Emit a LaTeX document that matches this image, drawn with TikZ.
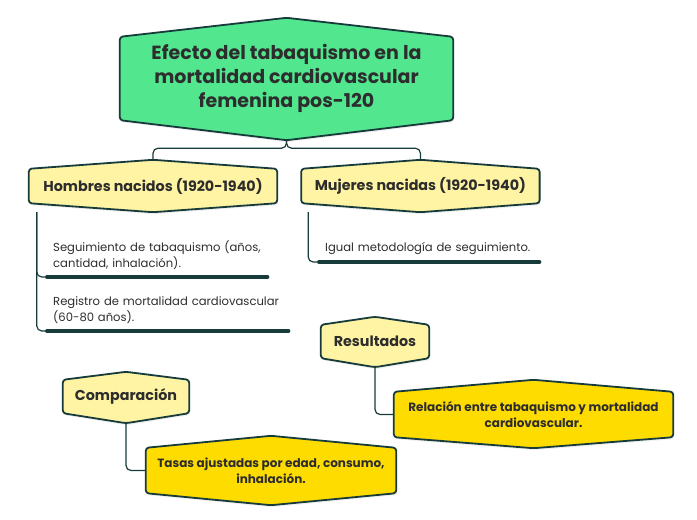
\documentclass[tikz,border=0pt]{standalone}
\usepackage{fontspec}
\setmainfont{Poppins}
\usetikzlibrary{positioning, shadows, backgrounds}

\definecolor{rootgreen}{HTML}{52E78F}
\definecolor{paleyellow}{HTML}{FFF4A3}
\definecolor{goldyellow}{HTML}{FFDC00}
\definecolor{edge}{HTML}{173B3B}
\definecolor{ink}{HTML}{2D2D2D}

\begin{document}
\begin{tikzpicture}[x=1pt, y=-1pt,
    % Define styles
    box/.style={rectangle, inner sep=0pt, align=center, text=ink},
    main/.style={box, font=\fontsize{19}{24}\selectfont\bfseries},
    group/.style={box, minimum height=34pt, font=\fontsize{14.3}{17}\selectfont\bfseries},
    result/.style={box, minimum height=45pt, font=\fontsize{12}{15.5}\selectfont\bfseries},
    item/.style={anchor=south west, align=left, inner xsep=8pt, inner ysep=7pt, font=\fontsize{11.6}{16.5}\selectfont, text=ink},
    hexline/.style={draw=edge, line width=1.8pt, rounded corners=3pt, drop shadow={opacity=0.12, shadow xshift=1pt, shadow yshift=-2pt}},
    link/.style={draw=edge, line width=1.2pt, rounded corners=5pt},
    underline/.style={draw=edge, line width=4pt, line cap=round, shorten <=2pt, shorten >=2pt}
  ]
  \useasboundingbox (0,0) rectangle (697,520);

  % Main topic
  \node[main, minimum width=333pt, minimum height=83pt] (root) at (286.5,78.5) {Efecto del tabaquismo en la\\mortalidad cardiovascular\\femenina pos-120};

  % Groups
  \node[group, minimum width=248pt] (hombres) at (153,186) {Hombres nacidos (1920-1940)};
  \node[group, minimum width=238pt, right=24pt of hombres] (mujeres) {Mujeres nacidas (1920-1940)};
  \draw[link] ([yshift=-20pt]root.south) -- ++(0,8) -| ([yshift=9pt]hombres.north);
  \draw[link] ([yshift=-20pt]root.south) -- ++(0,8) -| ([yshift=9pt]mujeres.north);

  % Details
  \node[item, text width=208pt] (seguimiento) at (45,277) {Seguimiento de tabaquismo (años,\\cantidad, inhalación).};
  \node[item, text width=229pt] (registro) at (45,331) {Registro de mortalidad cardiovascular\\(60-80 años).};
  \node[item, text width=208pt] (igual) at (317,262) {Igual metodología de seguimiento.};
  \draw[link] ([xshift=8pt, yshift=-9pt]hombres.south west) |- (seguimiento.south west);
  \draw[link] ([xshift=8pt, yshift=-9pt]hombres.south west) |- (registro.south west);
  \draw[link] ([xshift=7pt, yshift=-9pt]mujeres.south west) |- (igual.south west);
  \draw[underline] (seguimiento.south west) -- (seguimiento.south east);
  \draw[underline] (registro.south west) -- (registro.south east);
  \draw[underline] (igual.south west) -- (igual.south east);

  % Results and comparison
  \node[group, minimum width=108pt, minimum height=33pt] (resultados) at (375,341.5) {Resultados};
  \node[result, minimum width=279pt] (relacion) at (533.5,414.5) {Relación entre tabaquismo y mortalidad\\cardiovascular.};
  \node[group, minimum width=126pt, minimum height=33pt] (comparacion) at (126,396.5) {Comparación};
  \node[result, minimum width=250pt] (tasas) at (271,470.5) {Tasas ajustadas por edad, consumo,\\inhalación.};
  \draw[link] ([yshift=-9pt]resultados.south) |- (relacion.west);
  \draw[link] ([yshift=-10pt]comparacion.south) |- (tasas.west);

  % Hexagon outlines
  \begin{scope}[on background layer]
    \draw[hexline, fill=rootgreen] (root.north west) -- ([yshift=19pt]root.north) -- (root.north east) -- (root.south east) -- ([yshift=-20pt]root.south) -- (root.south west) -- cycle;
    \draw[hexline, fill=paleyellow] (hombres.north west) -- ([yshift=9pt]hombres.north) -- (hombres.north east) -- (hombres.south east) -- ([yshift=-9pt]hombres.south) -- (hombres.south west) -- cycle;
    \draw[hexline, fill=paleyellow] (mujeres.north west) -- ([yshift=9pt]mujeres.north) -- (mujeres.north east) -- (mujeres.south east) -- ([yshift=-9pt]mujeres.south) -- (mujeres.south west) -- cycle;
    \draw[hexline, fill=paleyellow] (resultados.north west) -- ([yshift=8pt]resultados.north) -- (resultados.north east) -- (resultados.south east) -- ([yshift=-9pt]resultados.south) -- (resultados.south west) -- cycle;
    \draw[hexline, fill=goldyellow] (relacion.north west) -- ([yshift=12pt]relacion.north) -- (relacion.north east) -- (relacion.south east) -- ([yshift=-11pt]relacion.south) -- (relacion.south west) -- cycle;
    \draw[hexline, fill=paleyellow] (comparacion.north west) -- ([yshift=8pt]comparacion.north) -- (comparacion.north east) -- (comparacion.south east) -- ([yshift=-10pt]comparacion.south) -- (comparacion.south west) -- cycle;
    \draw[hexline, fill=goldyellow] (tasas.north west) -- ([yshift=12pt]tasas.north) -- (tasas.north east) -- (tasas.south east) -- ([yshift=-12pt]tasas.south) -- (tasas.south west) -- cycle;
  \end{scope}

\end{tikzpicture}
\end{document}
